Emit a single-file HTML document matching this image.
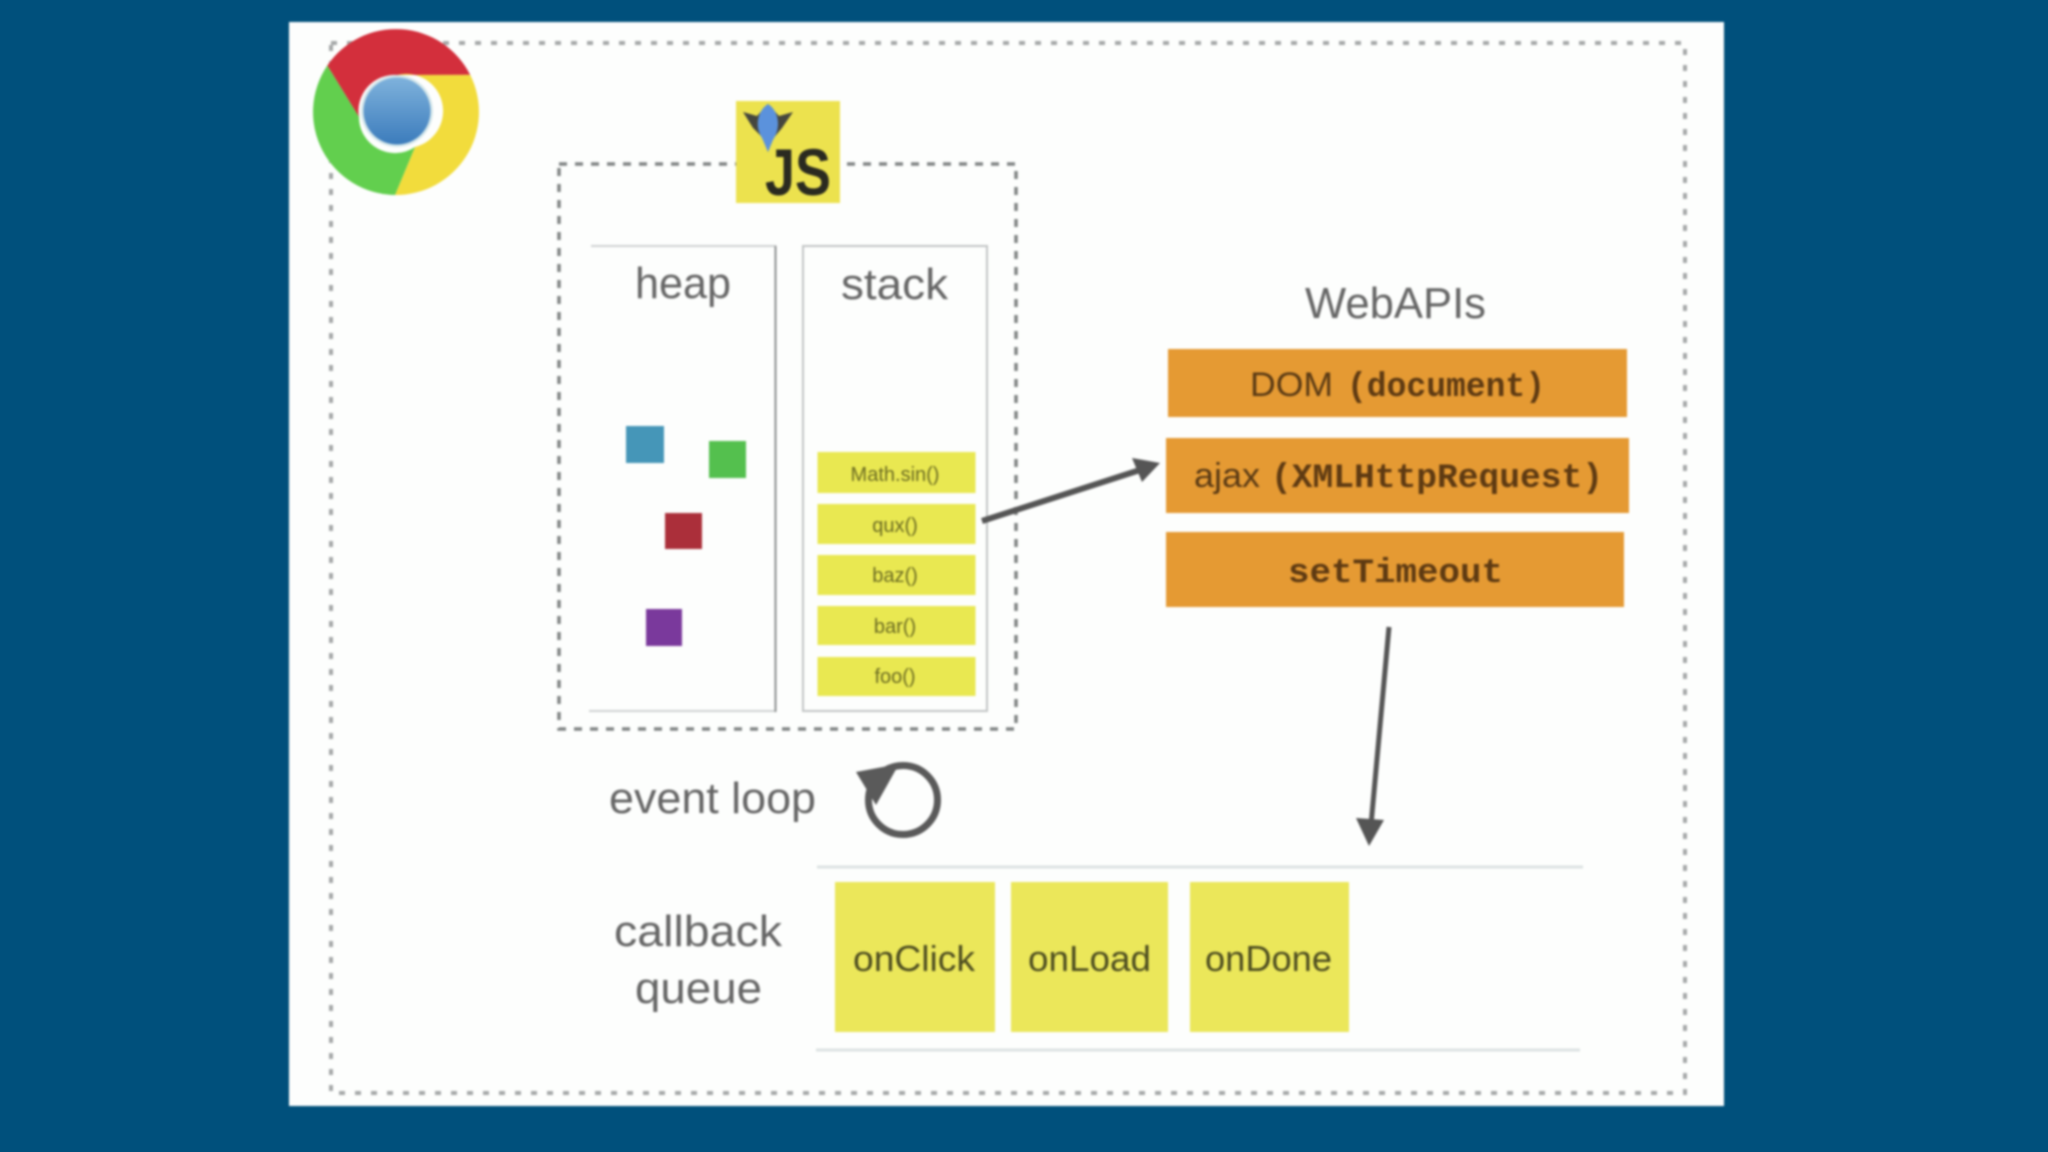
<!DOCTYPE html>
<html><head><meta charset="utf-8"><style>
html,body{margin:0;padding:0;background:#00507c;width:2048px;height:1152px;overflow:hidden}
svg{display:block;filter:blur(1px)}
text{font-family:"Liberation Sans",sans-serif}
.l{fill:#666;font-size:44px}
.m{font-family:"Liberation Mono",monospace;font-weight:bold;fill:#5e3a12;font-size:34px}
.s{fill:#5a3a14;font-size:34px}
.f{fill:#6b6b22;font-size:20px;text-anchor:middle}
.q{fill:#4d4d20;font-size:36px}
</style></head><body>
<svg width="2048" height="1152" viewBox="0 0 2048 1152" xmlns="http://www.w3.org/2000/svg">
<defs><linearGradient id="b" x1="0" y1="0" x2="0" y2="1"><stop offset="0" stop-color="#7fb2dc"/><stop offset="1" stop-color="#3c7cbc"/></linearGradient></defs>
<rect width="2048" height="1152" fill="#00507c"/>
<rect x="289" y="22" width="1435" height="1084" fill="#fdfefd"/>
<rect x="331" y="43" width="1354" height="1050" fill="none" stroke="#a5a8a8" stroke-width="4" stroke-dasharray="6 10"/>

<!-- chrome -->
<path d="M327.3 65.5A83 83 0 0 1 470.2 74.9L397 75A36 36 0 0 0 359 117Z" fill="#d32f3c"/>
<path d="M470.2 74.9A83 83 0 0 1 395 195L415 147A36 36 0 0 0 397 75Z" fill="#f2dc3c"/>
<path d="M395 195A83 83 0 0 1 327.3 65.5L359 117A36 36 0 0 0 415 147Z" fill="#62cf4e"/>
<circle cx="397" cy="111" r="36" fill="#d3e6ea"/>
<circle cx="397" cy="111" r="33.5" fill="url(#b)"/>

<!-- inner box -->
<rect x="559" y="164" width="457" height="565" fill="none" stroke="#808484" stroke-width="3.5" stroke-dasharray="8 8"/>
<rect x="736" y="101" width="104" height="102" fill="#ece24e"/>
<text x="765" y="195" textLength="66" lengthAdjust="spacingAndGlyphs" style="font-size:66px;font-weight:bold;fill:#2a2a20">JS</text>
<path d="M743 112L757 116L768 104L779 116L793 112L782 128L772 140L768 152L763 138L753 128Z" fill="#45463e"/>
<path d="M768 104C778 110 782 126 773 140L768 152L762 138C754 126 758 110 768 104Z" fill="#5b92dc"/>

<!-- heap/stack -->
<path d="M591 246H775.5V712M589 711H775" fill="none" stroke="#cfd2d2" stroke-width="2"/>
<line x1="775.5" y1="246" x2="775.5" y2="712" stroke="#8d9090" stroke-width="2"/>
<rect x="803" y="246" width="184" height="465" fill="none" stroke="#c2c5c5" stroke-width="2"/>
<text class="l" x="635" y="298" textLength="96" lengthAdjust="spacingAndGlyphs">heap</text>
<text class="l" x="841" y="299" textLength="107" lengthAdjust="spacingAndGlyphs">stack</text>

<rect x="626" y="426" width="38" height="37" fill="#4596b8"/>
<rect x="709" y="441" width="37" height="37" fill="#54c04e"/>
<rect x="665" y="513" width="37" height="36" fill="#ab2f3a"/>
<rect x="646" y="609" width="36" height="37" fill="#7a399c"/>

<g fill="#e9e851">
<rect x="817.5" y="452" width="158" height="41"/>
<rect x="817.5" y="504" width="158" height="40"/>
<rect x="817.5" y="555" width="158" height="40"/>
<rect x="817.5" y="606" width="158" height="39"/>
<rect x="817.5" y="657" width="158" height="39"/>
</g>
<text class="f" x="895" y="481">Math.sin()</text>
<text class="f" x="895" y="532">qux()</text>
<text class="f" x="895" y="582">baz()</text>
<text class="f" x="895" y="633">bar()</text>
<text class="f" x="895" y="683">foo()</text>

<!-- arrow 1 -->
<line x1="982" y1="521" x2="1140" y2="470" stroke="#555" stroke-width="6"/>
<path d="M1160 463L1132 458L1142 482Z" fill="#555"/>

<!-- web apis -->
<text class="l" x="1305" y="318" textLength="181" lengthAdjust="spacingAndGlyphs">WebAPIs</text>
<g fill="#e59a33">
<rect x="1168" y="349" width="459" height="68"/>
<rect x="1166" y="438" width="463" height="75"/>
<rect x="1166" y="532" width="458" height="75"/>
</g>
<text class="s" x="1250" y="396" textLength="83" lengthAdjust="spacingAndGlyphs">DOM</text>
<text class="m" x="1347" y="396" textLength="198" lengthAdjust="spacingAndGlyphs">(document)</text>
<text class="s" x="1194" y="487" textLength="66" lengthAdjust="spacingAndGlyphs">ajax</text>
<text class="m" x="1271" y="487" textLength="332" lengthAdjust="spacingAndGlyphs">(XMLHttpRequest)</text>
<text class="m" x="1288" y="582" textLength="215" lengthAdjust="spacingAndGlyphs">setTimeout</text>

<!-- arrow 2 -->
<line x1="1389" y1="627" x2="1371" y2="825" stroke="#555" stroke-width="5"/>
<path d="M1369 846L1356 818L1384 820Z" fill="#555"/>

<!-- event loop -->
<text class="l" x="609" y="813" textLength="207" lengthAdjust="spacingAndGlyphs">event loop</text>
<circle cx="903" cy="800" r="34.5" fill="none" stroke="#5a5a5a" stroke-width="7"/>
<path d="M856 772L899 764L876 805Z" fill="#5a5a5a"/>

<!-- callback queue -->
<text class="l" x="614" y="946" textLength="168" lengthAdjust="spacingAndGlyphs">callback</text>
<text class="l" x="635" y="1003" textLength="127" lengthAdjust="spacingAndGlyphs">queue</text>
<line x1="817" y1="867" x2="1583" y2="867" stroke="#dde3e3" stroke-width="3"/>
<line x1="816" y1="1050" x2="1580" y2="1050" stroke="#dde3e3" stroke-width="3"/>
<g fill="#ebe75a">
<rect x="835" y="882" width="160" height="150"/>
<rect x="1011" y="882" width="157" height="150"/>
<rect x="1190" y="882" width="159" height="150"/>
</g>
<text class="q" x="853" y="971" textLength="122" lengthAdjust="spacingAndGlyphs">onClick</text>
<text class="q" x="1028" y="971" textLength="123" lengthAdjust="spacingAndGlyphs">onLoad</text>
<text class="q" x="1205" y="971" textLength="127" lengthAdjust="spacingAndGlyphs">onDone</text>
</svg>
</body></html>
